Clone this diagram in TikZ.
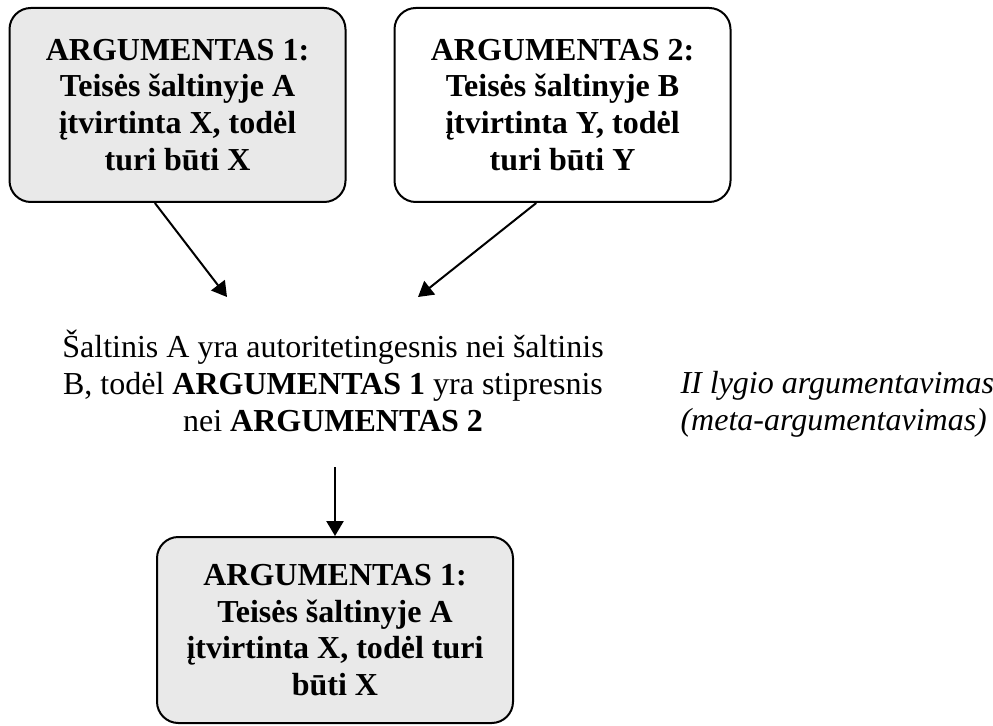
\documentclass[tikz,border=0pt]{standalone}
\usepackage{fontspec}
\setmainfont{Liberation Serif}
\usetikzlibrary{arrows.meta}

\begin{document}
\begin{tikzpicture}[x=0.375pt,y=-0.375pt,
    every node/.style={font=\fontsize{12}{13.8}\selectfont},
    box/.style={draw,rounded corners=8pt,line width=0.75pt,align=center,inner sep=0pt,
        minimum width=126pt,minimum height=72.75pt,font=\fontsize{12}{13.8}\selectfont\bfseries},
    arr/.style={-{Triangle[length=5.6pt,width=6.4pt]},line width=0.75pt}]

    \useasboundingbox (0,0) rectangle (993,726);

    % Nodes
    \node[box,fill=gray!17] (arg1) at (177.5,105) {ARGUMENTAS 1:\\Teisės šaltinyje A\\įtvirtinta X, todėl\\turi būti X};
    \node[box] (arg2) at (562.5,105) {ARGUMENTAS 2:\\Teisės šaltinyje B\\įtvirtinta Y, todėl\\turi būti Y};

    \node[align=center,inner sep=0pt] (meta) at (333,381) {Šaltinis A yra autoritetingesnis nei šaltinis\\B, todėl \textbf{ARGUMENTAS 1} yra stipresnis\\nei \textbf{ARGUMENTAS 2}};
    \node[align=left,anchor=west,inner sep=0pt,font=\fontsize{12}{13.8}\selectfont\itshape] (lvl) at (680,404) {II lygio argumentavimas\\(meta-argumentavimas)};

    \node[box,fill=gray!17,minimum width=133.5pt,minimum height=69.75pt] (res) at (335,630) {ARGUMENTAS 1:\\Teisės šaltinyje A\\įtvirtinta X, todėl turi\\būti X};

    \coordinate (t1) at (227,297);
    \coordinate (t2) at (418,297);
    \coordinate (m1) at (335,467);

    % Edges
    \draw[arr] (arg1.257) -- (t1);
    \draw[arr] (arg2.255) -- (t2);
    \draw[arr] (m1) -- (res);

\end{tikzpicture}
\end{document}
